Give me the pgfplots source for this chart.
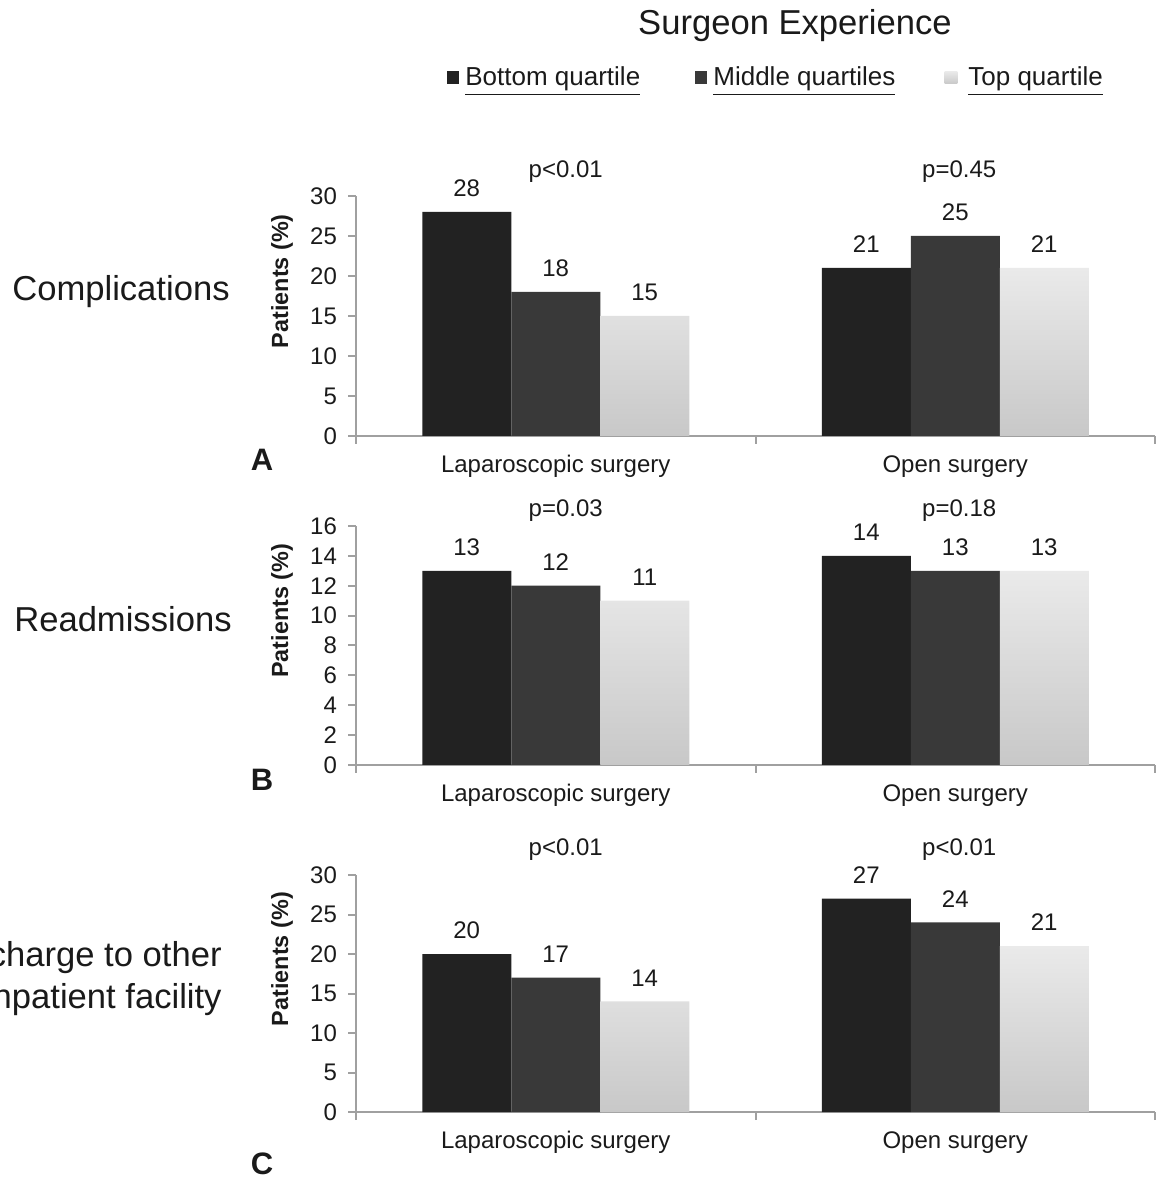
\documentclass[border=0pt]{standalone}
\usepackage{fontspec}
\setmainfont{Liberation Sans}
\usepackage{pgfplots}
\pgfplotsset{compat=1.18}
\definecolor{cA}{HTML}{222222}
\definecolor{cB}{HTML}{393939}
\definecolor{cCt}{HTML}{EAEAEA}
\definecolor{cCb}{HTML}{C8C8C8}
\definecolor{axc}{HTML}{A0A0A0}
\definecolor{txt}{HTML}{1A1A1A}
\newcommand{\tf}{\fontsize{12}{14}\selectfont}
\newcommand{\bigf}{\fontsize{17.3}{21}\selectfont}
\pgfplotsset{
 panel/.style={
  scale only axis, width=399.5pt, anchor=south west,
  xmin=-0.5, xmax=1.5, ymin=0,
  axis x line*=bottom, axis y line*=left,
  axis line style={draw=axc, line width=1pt, -},
  tick align=outside, major tick length=4pt,
  tick style={draw=axc, line width=1pt},
  xtick={-0.5,0.5,1.5}, xticklabels={},
  extra x ticks={0,1},
  extra x tick labels={Laparoscopic surgery, Open surgery},
  extra x tick style={major tick length=0pt, tick style={draw=none}},
  x tick label style={font=\tf, text=txt, yshift=-5.5pt, text height=9pt, text depth=2.6pt},
  y tick label style={font=\tf, text=txt, xshift=-2pt},
  /pgf/number format/assume math mode=true,
  ylabel={Patients (\%)},
  ylabel style={font=\bfseries\fontsize{11.7}{14}\selectfont, text=txt, at={(axis description cs:-0.0926,0.645)}, anchor=center},
  ybar, bar width=44.5pt,
  nodes near coords,
  every node near coord/.append style={font=\tf, text=txt, inner sep=0pt, anchor=south, yshift=7.5pt},
  clip=false,
 },
 s1/.style={draw=none, fill=cA, bar shift=-44.5pt},
 s2/.style={draw=none, fill=cB, bar shift=0pt},
 s3/.style={draw=none, top color=cCt, bottom color=cCb, bar shift=44.5pt},
}
\begin{document}
\begin{tikzpicture}[x=1pt,y=1pt]
\useasboundingbox (0,0) rectangle (580,590);
% title and legend
\node[font=\bigf, text=txt] at (397.5,577) {Surgeon Experience};
\fill[cA] (223.3,548) rectangle (229.7,554.4);
\node[font=\fontsize{13}{15}\selectfont, text=txt, anchor=base west, inner sep=0pt] at (232.5,547) {\underline{Bottom quartile}};
\fill[cB] (347.3,548) rectangle (353.7,554.4);
\node[font=\fontsize{13}{15}\selectfont, text=txt, anchor=base west, inner sep=0pt] at (356.5,547) {\underline{Middle quartiles}};
\shade[top color=cCt, bottom color=cCb] (472.3,548) rectangle (478.7,554.4);
\node[font=\fontsize{13}{15}\selectfont, text=txt, anchor=base west, inner sep=0pt] at (484,547) {\underline{Top quartile}};
% row labels
\node[font=\bigf, text=txt, anchor=east, inner sep=0pt] at (115,444) {Complications};
\node[font=\bigf, text=txt, anchor=east, inner sep=0pt] at (116,280.5) {Readmissions};
\node[font=\bigf, text=txt, anchor=east, inner sep=0pt, align=right] at (111,100.5) {Discharge to other\\inpatient facility};
% panel letters
\node[font=\bfseries\fontsize{15.5}{18}\selectfont, text=txt] at (131,360) {A};
\node[font=\bfseries\fontsize{15.5}{18}\selectfont, text=txt] at (131,200) {B};
\node[font=\bfseries\fontsize{15.5}{18}\selectfont, text=txt] at (131,8) {C};
% Panel A
\begin{axis}[panel, at={(178pt,372pt)}, height=120pt, ymax=30, ytick={0,5,...,30}]
\addplot[s1] coordinates {(0,28) (1,21)};
\addplot[s2] coordinates {(0,18) (1,25)};
\addplot[s3] coordinates {(0,15) (1,21)};
\node[font=\tf, text=txt] at (axis cs:0.025,33.1) {p<0.01};
\node[font=\tf, text=txt] at (axis cs:1.01,33.1) {p=0.45};
\end{axis}
% Panel B
\begin{axis}[panel, at={(178pt,207.5pt)}, height=119.5pt, ymax=16, ytick={0,2,...,16}]
\addplot[s1] coordinates {(0,13) (1,14)};
\addplot[s2] coordinates {(0,12) (1,13)};
\addplot[s3] coordinates {(0,11) (1,13)};
\node[font=\tf, text=txt] at (axis cs:0.025,17.0) {p=0.03};
\node[font=\tf, text=txt] at (axis cs:1.01,17.0) {p=0.18};
\end{axis}
% Panel C
\begin{axis}[panel, at={(178pt,34pt)}, height=118.5pt, ymax=30, ytick={0,5,...,30}]
\addplot[s1] coordinates {(0,20) (1,27)};
\addplot[s2] coordinates {(0,17) (1,24)};
\addplot[s3] coordinates {(0,14) (1,21)};
\node[font=\tf, text=txt] at (axis cs:0.025,33.25) {p<0.01};
\node[font=\tf, text=txt] at (axis cs:1.01,33.25) {p<0.01};
\end{axis}
\end{tikzpicture}
\end{document}
